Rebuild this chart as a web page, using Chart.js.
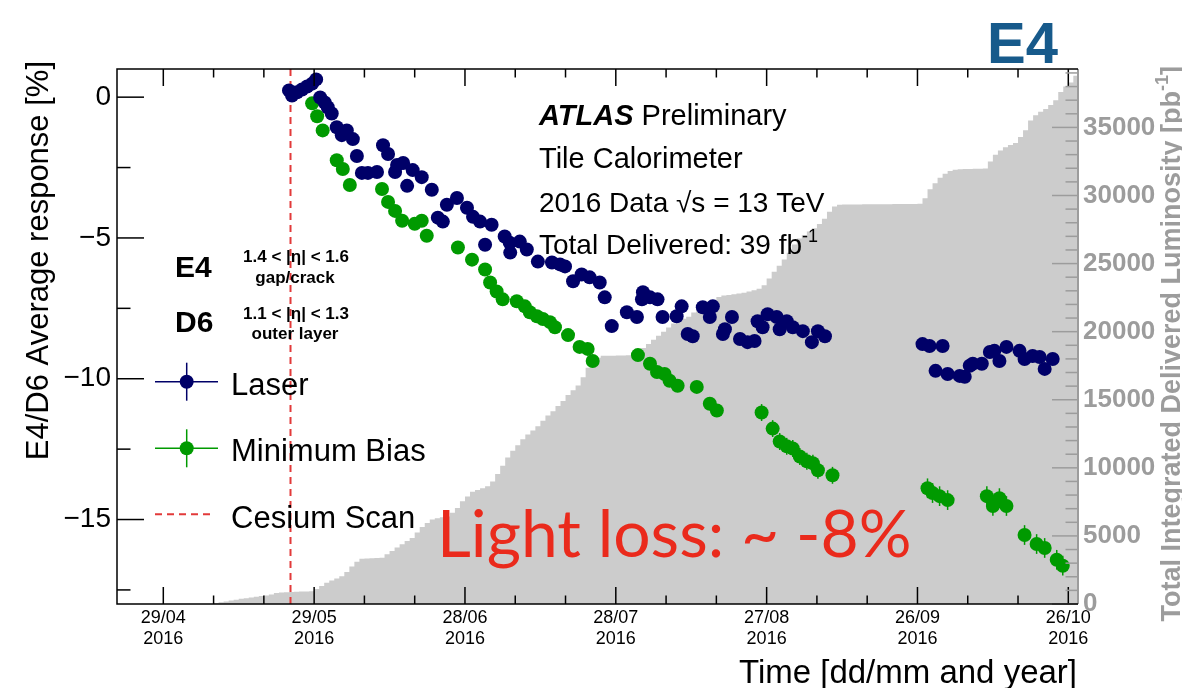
<!DOCTYPE html>
<html>
<head>
<meta charset="utf-8">
<title>E4/D6 response vs time, 2016</title>
<script src="https://cdn.jsdelivr.net/npm/chart.js@4.4.1/dist/chart.umd.min.js"></script>
<style>
  html, body { margin: 0; padding: 0; background: #ffffff; }
  #wrap { width: 1182px; height: 688px; }
</style>
</head>
<body>
<div id="wrap"><canvas id="c" width="1182" height="688"></canvas></div>
<script>
// ---- data (time axis in day-of-year 2016, 1 = 1 Jan) ----
const laserDays = [145.0, 145.6, 146.6, 147.6, 148.6, 149.6, 150.4, 151.2, 152.1, 152.7,
  153.5, 154.5, 155.5, 156.5, 157.7, 158.5, 159.5, 160.7, 162.5, 163.7,
  164.7, 166.1, 166.5, 167.7, 168.5, 169.6, 171.4, 173.4, 174.6, 175.6,
  176.4, 178.4, 180.4, 181.6, 183.0, 184.0, 185.3, 187.9, 188.9, 189.0,
  190.9, 192.3, 194.5, 197.3, 198.9, 199.9, 201.5, 203.2, 204.8, 206.8,
  207.8, 209.2, 212.2, 214.2, 215.2, 215.4, 216.8, 218.3, 219.3, 222.1,
  223.1, 224.3, 225.3, 227.3, 228.7, 229.3, 231.3, 231.7, 233.1, 234.7,
  236.2, 237.6, 238.2, 239.2, 240.2, 242.0, 242.6, 244.0, 245.2, 247.2,
  249.0, 250.2, 251.6, 271.0, 272.4, 273.6, 275.0, 276.0, 278.4, 279.4,
  280.4, 281.0, 282.8, 284.4, 285.3, 286.3, 287.7, 290.3, 291.3, 292.9,
  294.3, 295.3, 296.9];
const laserResp = [0.24, 0.06, 0.17, 0.27, 0.38, 0.48, 0.63, -0.01, -0.19, -0.36,
  -0.58, -1.07, -1.35, -1.18, -1.49, -2.09, -2.69, -2.69, -2.66, -1.71,
  -2.02, -2.66, -2.41, -2.34, -3.15, -2.59, -2.84, -3.29, -4.28, -4.42,
  -3.82, -3.58, -3.93, -4.25, -4.42, -5.24, -4.53, -4.95, -5.17, -5.52,
  -5.13, -5.41, -5.84, -5.87, -5.94, -6.01, -6.54, -6.30, -6.40, -6.58,
  -7.11, -8.13, -7.64, -7.81, -7.18, -6.93, -7.11, -7.18, -7.81, -7.78,
  -7.43, -8.41, -8.49, -7.46, -7.81, -7.43, -8.41, -8.24, -7.81, -8.59,
  -8.70, -8.66, -7.96, -8.17, -7.71, -7.81, -8.24, -7.96, -8.17, -8.31,
  -8.70, -8.31, -8.49, -8.77, -8.84, -9.72, -8.84, -9.83, -9.90, -9.93,
  -9.54, -9.47, -9.47, -9.05, -9.01, -9.37, -8.87, -9.01, -9.30, -9.19,
  -9.23, -9.65, -9.30];

const mbDays = [149.6, 150.6, 151.7, 154.5, 155.7, 157.1, 163.5, 164.7, 166.1, 167.5,
  170.0, 171.4, 172.4, 178.6, 181.4, 184.0, 185.0, 186.3, 187.5, 190.3,
  191.9, 192.9, 194.3, 195.5, 196.9, 197.9, 200.5, 202.8, 204.4, 205.4,
  214.4, 216.8, 218.2, 219.7, 220.7, 222.3, 226.1, 228.7, 230.1, 239.0,
  241.2, 242.6, 244.0, 245.2, 246.6, 248.0, 249.2, 250.2, 253.1, 272.0,
  273.0, 274.4, 276.0, 283.8, 285.0, 286.3, 287.7, 291.3, 293.7, 295.3,
  297.7, 298.9];
const mbResp = [-0.22, -0.68, -1.18, -2.24, -2.55, -3.12, -3.26, -3.72, -4.04, -4.39,
  -4.50, -4.39, -4.92, -5.34, -5.77, -6.12, -6.58, -6.90, -7.18, -7.25,
  -7.43, -7.64, -7.78, -7.88, -7.99, -8.17, -8.45, -8.87, -8.94, -9.37,
  -9.16, -9.47, -9.76, -9.83, -10.07, -10.25, -10.29, -10.89, -11.13, -11.20,
  -11.77, -12.23, -12.40, -12.48, -12.76, -12.93, -13.00, -13.25, -13.43, -13.89,
  -14.06, -14.17, -14.31, -14.17, -14.52, -14.24, -14.52, -15.55, -15.87, -16.01,
  -16.43, -16.64];
const mbErr = [0.15, 0.15, 0.15, 0.15, 0.15, 0.15, 0.15, 0.15, 0.15, 0.15,
  0.15, 0.15, 0.15, 0.15, 0.15, 0.15, 0.15, 0.15, 0.15, 0.15,
  0.15, 0.15, 0.15, 0.15, 0.15, 0.15, 0.15, 0.15, 0.15, 0.15,
  0.15, 0.15, 0.15, 0.15, 0.15, 0.15, 0.15, 0.15, 0.15, 0.30,
  0.30, 0.30, 0.30, 0.30, 0.30, 0.30, 0.30, 0.30, 0.30, 0.35,
  0.35, 0.35, 0.35, 0.35, 0.35, 0.35, 0.35, 0.35, 0.35, 0.35,
  0.35, 0.35];

// cumulative delivered luminosity [pb^-1], one value per day starting at lumiFirstDay
const lumiFirstDay = 129;
const lumiTotals = [
  0, 60, 120, 180, 250, 320, 380, 430, 480, 530,
  580, 620, 700, 800, 840, 870, 890, 905, 915, 925,
  930, 1100, 1320, 1560, 1720, 1870, 2030, 2350, 2750, 3100,
  3330, 3350, 3360, 3370, 3390, 3650, 3900, 4150, 4380, 4620,
  4850, 5250, 5650, 5950, 6200, 6300, 6380, 6430, 6700, 7050,
  7550, 7900, 8250, 8380, 8500, 8650, 9000, 9550, 10150, 10750,
  11250, 11650, 12100, 12450, 12750, 13050, 13450, 13850, 14150, 14550,
  14900, 15350, 15700, 16050, 16650, 17350, 17750, 18080, 18230, 18240,
  18240, 18250, 18250, 18260, 18270, 18500, 18800, 19100, 19400, 19700,
  20000, 20300, 20600, 20800, 20950, 21100, 21400, 21650, 21900, 22100,
  22300, 22550, 22650, 22700, 22750, 22800, 22850, 22950, 23050, 23150,
  23400, 23900, 24400, 24850, 25300, 25800, 26400, 26850, 27100, 27350,
  27600, 27900, 28300, 28800, 29200, 29320, 29330, 29330, 29340, 29340,
  29350, 29350, 29350, 29360, 29360, 29360, 29370, 29370, 29370, 29380,
  29380, 29390, 29800, 30450, 30900, 31300, 31600, 31800, 31900, 31920,
  31940, 31950, 31960, 31970, 31980, 32500, 33000, 33300, 33550, 33700,
  33850, 34300, 34800, 35500, 35900, 36150, 36350, 36650, 37000, 37600,
  38000, 38300, 38800, 39300];

const cesiumDay = 145.3;

// axis ticks
const xTickDays = [120, 150, 180, 210, 240, 270, 300];
const xTickLabels = [['29/04', '2016'], ['29/05', '2016'], ['28/06', '2016'], ['28/07', '2016'],
  ['27/08', '2016'], ['26/09', '2016'], ['26/10', '2016']];
const yTicks = [0, -5, -10, -15];
const lumiTicks = [0, 5000, 10000, 15000, 20000, 25000, 30000, 35000];

// ---- styling ----
const FONT = "'Liberation Sans', Arial, Helvetica, sans-serif";
const laserColor = '#000068';
const mbColor = '#009a00';
const cesiumColor = '#e23a3a';
const lumiAxisColor = '#9c9c9c';

function seg(ctx, x1, y1, x2, y2) {
  ctx.beginPath(); ctx.moveTo(x1, y1); ctx.lineTo(x2, y2); ctx.stroke();
}

// draws a run of text pieces (each with its own font / vertical shift)
function drawRich(ctx, pieces, x, y, align) {
  let total = 0;
  pieces.forEach(p => { ctx.font = p.font; p.w = ctx.measureText(p.text).width; total += p.w; });
  let cx = align === 'right' ? x - total : (align === 'center' ? x - total / 2 : x);
  ctx.textAlign = 'left';
  pieces.forEach(p => {
    ctx.font = p.font;
    ctx.fillText(p.text, cx, y + (p.dy || 0));
    cx += p.w;
  });
}

// cesium scan marker, right above the luminosity histogram
const cesiumLine = {
  id: 'cesiumLine',
  afterDatasetDraw(chart, args) {
    if (args.index !== 0) return;
    const { ctx, chartArea: a } = chart;
    const px = chart.scales.x.getPixelForValue(cesiumDay);
    ctx.save();
    ctx.strokeStyle = cesiumColor;
    ctx.lineWidth = 2;
    ctx.setLineDash([7, 5]);
    seg(ctx, px, a.top, px, a.bottom);
    ctx.restore();
  }
};

// vertical error bars for the minimum-bias points
const errorBars = {
  id: 'errorBars',
  beforeDatasetDraw(chart, args) {
    if (args.index !== 2) return;
    const { ctx } = chart;
    const xs = chart.scales.x, ys = chart.scales.y;
    ctx.save();
    ctx.strokeStyle = mbColor;
    ctx.lineWidth = 1.5;
    mbDays.forEach((d, i) => {
      const px = xs.getPixelForValue(d);
      seg(ctx, px, ys.getPixelForValue(mbResp[i] - mbErr[i]), px, ys.getPixelForValue(mbResp[i] + mbErr[i]));
    });
    ctx.restore();
  }
};

// frame with inward ticks (major + minor)
const frameTicks = {
  id: 'frameTicks',
  afterDatasetsDraw(chart) {
    const { ctx, chartArea: a } = chart;
    const xs = chart.scales.x, ys = chart.scales.y, y2 = chart.scales.y2;
    ctx.save();
    ctx.lineWidth = 1.5;
    ctx.strokeStyle = '#000';
    for (let d = 110; d <= xs.max; d += 10) {
      if (d < xs.min) continue;
      const px = xs.getPixelForValue(d);
      const len = (d - 120) % 30 === 0 ? 17 : 8.5;
      seg(ctx, px, a.bottom, px, a.bottom - len);
      seg(ctx, px, a.top, px, a.top + len);
    }
    for (let v = -17.5; v <= ys.max; v += 2.5) {
      if (v < ys.min) continue;
      const py = ys.getPixelForValue(v);
      const len = Math.abs(v % 5) < 1e-9 ? 27 : 13.5;
      seg(ctx, a.left, py, a.left + len, py);
    }
    ctx.strokeStyle = lumiAxisColor;
    for (let v = 0; v <= y2.max; v += 1000) {
      const py = y2.getPixelForValue(v);
      const len = v % 5000 === 0 ? 26 : 12.5;
      seg(ctx, a.right - len, py, a.right, py);
    }
    ctx.lineWidth = 2;
    seg(ctx, a.right, a.top, a.right, a.bottom);
    ctx.strokeStyle = '#000';
    ctx.lineWidth = 1.5;
    ctx.beginPath();
    ctx.moveTo(a.right, a.top);
    ctx.lineTo(a.left, a.top);
    ctx.lineTo(a.left, a.bottom);
    ctx.lineTo(a.right, a.bottom);
    ctx.stroke();
    ctx.restore();
  }
};

// titles, legend and labels
const annotations = {
  id: 'annotations',
  afterDraw(chart) {
    const { ctx } = chart;
    ctx.save();
    ctx.textBaseline = 'alphabetic';
    ctx.fillStyle = '#000';

    // axis titles
    ctx.save();
    ctx.translate(48, 61);
    ctx.rotate(-Math.PI / 2);
    ctx.font = `31px ${FONT}`;
    ctx.textAlign = 'right';
    ctx.fillText('E4/D6 Average response [%]', 0, 0);
    ctx.restore();

    ctx.font = `33px ${FONT}`;
    ctx.textAlign = 'right';
    ctx.fillText('Time [dd/mm and year]', 1077, 683);

    ctx.save();
    ctx.translate(1180, 66);
    ctx.rotate(-Math.PI / 2);
    ctx.fillStyle = lumiAxisColor;
    drawRich(ctx, [
      { text: 'Total Integrated Delivered Luminosity [pb', font: `bold 27px ${FONT}` },
      { text: '-1', font: `bold 18px ${FONT}`, dy: -12 },
      { text: ']', font: `bold 27px ${FONT}` }
    ], 0, 0, 'right');
    ctx.restore();

    // cell name
    ctx.fillStyle = '#175a8b';
    ctx.font = `bold 58px ${FONT}`;
    ctx.textAlign = 'left';
    ctx.fillText('E4', 987, 63);

    // ATLAS label block
    ctx.fillStyle = '#000';
    drawRich(ctx, [
      { text: 'ATLAS', font: `italic bold 29px ${FONT}` },
      { text: ' Preliminary', font: `29px ${FONT}` }
    ], 539, 125, 'left');
    ctx.font = `29px ${FONT}`;
    ctx.fillText('Tile Calorimeter', 539, 168);
    ctx.font = `28px ${FONT}`;
    ctx.fillText('2016 Data \u221As = 13 TeV', 539, 211.5);
    drawRich(ctx, [
      { text: 'Total Delivered: 39 fb', font: `28px ${FONT}` },
      { text: '-1', font: `18px ${FONT}`, dy: -12 }
    ], 539, 254, 'left');

    // cell descriptions
    ctx.font = `bold 30px ${FONT}`;
    ctx.textAlign = 'left';
    ctx.fillText('E4', 175, 277);
    ctx.fillText('D6', 175, 332);
    ctx.font = `bold 17px ${FONT}`;
    ctx.textAlign = 'center';
    ctx.fillText('1.4 < |\u03B7| < 1.6', 296, 262);
    ctx.fillText('gap/crack', 295, 283);
    ctx.fillText('1.1 < |\u03B7| < 1.3', 296, 318.5);
    ctx.fillText('outer layer', 295, 339);

    // legend
    const legendRows = [
      { label: 'Laser', color: laserColor, y: 381.7 },
      { label: 'Minimum Bias', color: mbColor, y: 448.3 }
    ];
    legendRows.forEach(r => {
      ctx.strokeStyle = r.color;
      ctx.fillStyle = r.color;
      ctx.lineWidth = 1.5;
      seg(ctx, 155, r.y, 218, r.y);
      seg(ctx, 186.7, r.y - 19, 186.7, r.y + 19);
      ctx.beginPath();
      ctx.arc(186.7, r.y, 7, 0, Math.PI * 2);
      ctx.fill();
      ctx.fillStyle = '#000';
      ctx.font = `31px ${FONT}`;
      ctx.textAlign = 'left';
      ctx.fillText(r.label, 231, r.y + 13);
    });
    ctx.strokeStyle = cesiumColor;
    ctx.lineWidth = 2;
    ctx.setLineDash([7, 5]);
    seg(ctx, 155, 514.3, 214, 514.3);
    ctx.setLineDash([]);
    ctx.fillStyle = '#000';
    ctx.font = `31px ${FONT}`;
    ctx.fillText('Cesium Scan', 231, 527.5);

    // light-loss summary
    const msg = 'Light loss: ~ -8%';
    ctx.font = `400 100px Lato, 'Open Sans', sans-serif`;
    const size = 100 * 475 / ctx.measureText(msg).width;
    ctx.font = `400 ${size.toFixed(1)}px Lato, 'Open Sans', sans-serif`;
    ctx.fillStyle = '#ea2a1c';
    ctx.textAlign = 'left';
    ctx.fillText(msg, 437, 556.5);

    ctx.restore();
  }
};

const lumiPoints = lumiTotals.map((v, i) => ({ x: lumiFirstDay + i, y: v }));
const laserPoints = laserDays.map((d, i) => ({ x: d, y: laserResp[i] }));
const mbPoints = mbDays.map((d, i) => ({ x: d, y: mbResp[i] }));

new Chart(document.getElementById('c'), {
  type: 'scatter',
  data: {
    datasets: [
      {
        type: 'line',
        label: 'Delivered luminosity',
        data: lumiPoints,
        xAxisID: 'x',
        yAxisID: 'y2',
        stepped: 'before',
        fill: 'origin',
        backgroundColor: '#cccccc',
        borderColor: 'rgba(0,0,0,0)',
        borderWidth: 0,
        pointRadius: 0,
        order: 3
      },
      {
        label: 'Laser',
        data: laserPoints,
        xAxisID: 'x',
        yAxisID: 'y',
        backgroundColor: laserColor,
        borderWidth: 0,
        pointRadius: 7,
        order: 1
      },
      {
        label: 'Minimum Bias',
        data: mbPoints,
        xAxisID: 'x',
        yAxisID: 'y',
        backgroundColor: mbColor,
        borderWidth: 0,
        pointRadius: 7,
        order: 2
      }
    ]
  },
  options: {
    responsive: false,
    animation: false,
    events: [],
    layout: { padding: { top: 69, left: 0, right: 0, bottom: 0 } },
    plugins: { legend: { display: false }, tooltip: { enabled: false } },
    scales: {
      x: {
        type: 'linear',
        position: 'bottom',
        min: 110.79,
        max: 301.93,
        afterBuildTicks: s => { s.ticks = xTickDays.map(v => ({ value: v })); },
        afterFit: s => { s.height = 84; },
        grid: { display: false, drawTicks: false },
        border: { display: false },
        ticks: {
          autoSkip: false, maxRotation: 0, minRotation: 0, padding: 3,
          color: '#000', font: { family: FONT, size: 18 },
          callback: (v, i) => xTickLabels[i]
        }
      },
      y: {
        type: 'linear',
        position: 'left',
        min: -18,
        max: 1,
        afterBuildTicks: s => { s.ticks = yTicks.map(v => ({ value: v })); },
        afterFit: s => { s.width = 117; },
        grid: { display: false, drawTicks: false },
        border: { display: false },
        ticks: {
          padding: 6, color: '#000', font: { family: FONT, size: 28 },
          callback: v => (v < 0 ? '\u2212' + Math.abs(v) : String(v))
        }
      },
      y2: {
        type: 'linear',
        position: 'right',
        min: 0,
        max: 39290,
        afterBuildTicks: s => { s.ticks = lumiTicks.map(v => ({ value: v })); },
        afterFit: s => { s.width = 104; },
        grid: { display: false, drawTicks: false },
        border: { display: false },
        ticks: {
          padding: 5, color: lumiAxisColor, font: { family: FONT, size: 26, weight: 'bold' },
          callback: v => String(v)
        }
      }
    }
  },
  plugins: [cesiumLine, errorBars, frameTicks, annotations]
});
</script>
</body>
</html>
